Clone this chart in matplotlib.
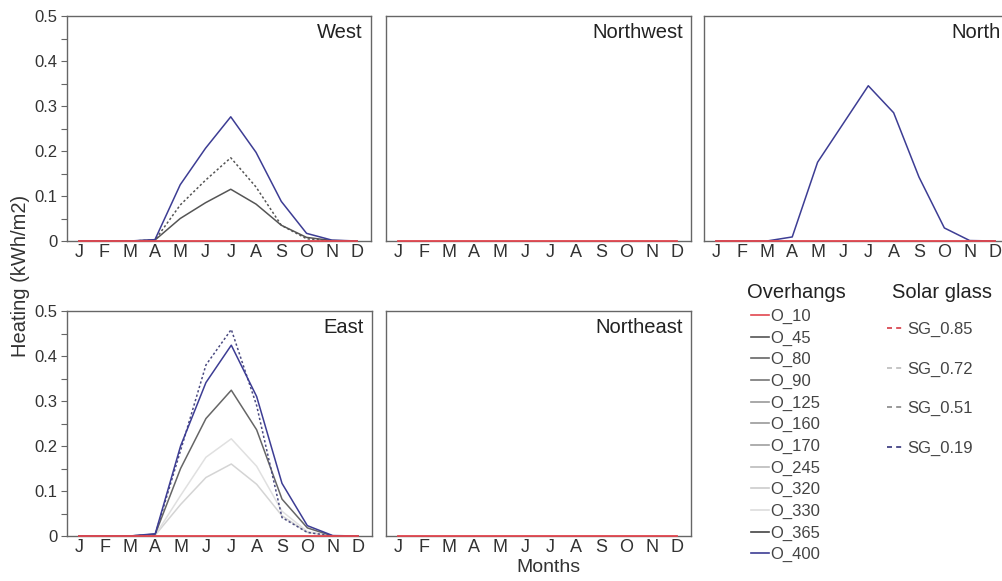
"""Heating per orientation: overhangs vs solar glass (monthly)."""
import matplotlib.pyplot as plt
from matplotlib.lines import Line2D

plt.rcParams["font.family"] = ["Liberation Sans", "DejaVu Sans"]

months = ["J", "F", "M", "A", "M", "J", "J", "A", "S", "O", "N", "D"]
zeros = [0.0] * 12

# West
west_o400 = [0, 0, 0, 0.003, 0.125, 0.206, 0.276, 0.197, 0.088, 0.017, 0.002, 0]
west_sg051 = [0, 0, 0, 0.002, 0.08, 0.135, 0.185, 0.12, 0.035, 0.005, 0, 0]
west_o365 = [0, 0, 0, 0.002, 0.05, 0.085, 0.115, 0.082, 0.035, 0.008, 0.001, 0]
# North
north_o400 = [0, 0, 0, 0.009, 0.175, 0.26, 0.345, 0.285, 0.142, 0.029, 0.001, 0]
# East
east_o400 = [0, 0, 0, 0.005, 0.2, 0.341, 0.424, 0.31, 0.117, 0.023, 0.001, 0]
east_sg019 = [0, 0, 0, 0.003, 0.19, 0.38, 0.459, 0.29, 0.041, 0.008, 0, 0]
east_o365 = [0, 0, 0, 0.004, 0.15, 0.261, 0.324, 0.236, 0.082, 0.018, 0, 0]
east_o245 = [0, 0, 0, 0.002, 0.09, 0.175, 0.216, 0.155, 0.055, 0.01, 0, 0]
east_o330 = [0, 0, 0, 0.002, 0.07, 0.13, 0.16, 0.115, 0.045, 0.008, 0, 0]

overhang_labels = ["O_10", "O_45", "O_80", "O_90", "O_125", "O_160", "O_170",
                   "O_245", "O_320", "O_330", "O_365", "O_400"]
overhang_colors = ["#e2474f", "#555555", "#666666", "#777777", "#999999", "#9a9a9a",
                   "#a0a0a0", "#bbbbbb", "#cccccc", "#dddddd", "#444444", "#3d3d94"]
sg_labels = ["SG_0.85", "SG_0.72", "SG_0.51", "SG_0.19"]
sg_colors = ["#d63a44", "#bbbbbb", "#888888", "#33337a"]

BLUE = overhang_colors[-1]
RED = overhang_colors[0]

W, H = 1003, 581
fig = plt.figure(figsize=(W / 100, H / 100), dpi=100)


def px_axes(left, top, right, bottom):
    return fig.add_axes([left / W, 1 - bottom / H, (right - left) / W, (bottom - top) / H])


panels = [
    ("West", (67, 16, 371, 241), True,
     [(west_o365, "#555555", "-"), (west_sg051, "#555555", (0, (1.5, 1.5))),
      (west_o400, BLUE, "-")]),
    ("Northwest", (386, 16, 691, 241), False, []),
    ("North", (704, 16, 1009, 241), False, [(north_o400, BLUE, "-")]),
    ("East", (67, 311, 372, 536), True,
     [(east_o330, "#d4d4d4", "-"), (east_o245, "#e0e0e0", "-"),
      (east_o365, "#666666", "-"), (east_sg019, "#4a4a80", (0, (1.5, 1.5))),
      (east_o400, BLUE, "-")]),
    ("Northeast", (386, 311, 691, 536), False, []),
]

x = list(range(12))
for title, box, show_y, series in panels:
    ax = px_axes(*box)
    for vals, color, ls in series:
        ax.plot(x, vals, color=color, linestyle=ls, linewidth=1.1)
    ax.plot(x, zeros, color=RED, linewidth=1.3, clip_on=False, zorder=5)
    ax.set_xlim(-0.48, 11.55)
    ax.set_ylim(0, 0.5)
    ax.set_xticks(x)
    ax.set_xticklabels(months, fontsize=13, color="#333333")
    ax.tick_params(axis="x", length=0, pad=2)
    if show_y:
        ax.set_yticks([0, 0.1, 0.2, 0.3, 0.4, 0.5])
        ax.set_yticklabels(["0", "0.1", "0.2", "0.3", "0.4", "0.5"], fontsize=12, color="#333333")
        ax.set_yticks([0.05, 0.15, 0.25, 0.35, 0.45], minor=True)
        ax.tick_params(axis="y", which="both", length=4, width=0.8, color="#666666", pad=3)
    else:
        ax.set_yticks([])
    for sp in ax.spines.values():
        sp.set_color("#666666")
        sp.set_linewidth(1.0)
    ax.text(1 - 8 / 304, 0.925, title, transform=ax.transAxes, ha="right", va="center",
            fontsize=14.5, color="#222222")

fig.text(21 / W, 1 - 276 / H, "Heating (kWh/m2)", rotation=90, ha="center", va="center",
         fontsize=14.5, color="#333333")
fig.text(548 / W, 1 - 568 / H, "Months", ha="center", va="center",
         fontsize=14, color="#333333")

fig.text(747 / W, 1 - 292 / H, "Overhangs", ha="left", va="center",
         fontsize=14.5, color="#222222")
fig.text(892 / W, 1 - 292 / H, "Solar glass", ha="left", va="center",
         fontsize=14.5, color="#222222")

oh_handles = [Line2D([], [], color=c, linewidth=1.2) for c in overhang_colors]
leg1 = fig.legend(oh_handles, overhang_labels, loc="upper left",
                  bbox_to_anchor=(751 / W, 1 - 309 / H), frameon=False, fontsize=12,
                  handlelength=1.08, handletextpad=0.1, labelspacing=0.39,
                  borderpad=0, borderaxespad=0)
for t in leg1.get_texts():
    t.set_color("#444444")

sg_handles = [Line2D([], [], color=c, linewidth=1.2, linestyle=(0, (3, 2.5)))
              for c in sg_colors]
leg2 = fig.legend(sg_handles, sg_labels, loc="upper left",
                  bbox_to_anchor=(887 / W, 1 - 322 / H), frameon=False, fontsize=12,
                  handlelength=0.9, handletextpad=0.3, labelspacing=1.46,
                  borderpad=0, borderaxespad=0)
for t in leg2.get_texts():
    t.set_color("#444444")

fig.savefig("out.png", dpi=100)
